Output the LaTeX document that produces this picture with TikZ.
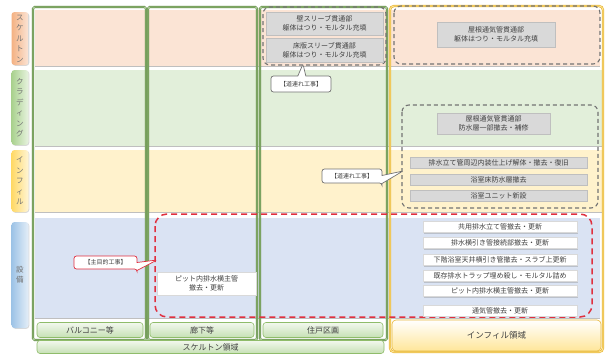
\documentclass[tikz,border=0pt]{standalone}
\usepackage{fontspec}
\newfontfamily\jp{Noto Sans CJK JP}
\usetikzlibrary{shapes.callouts,shadows}
\definecolor{bandsk}{HTML}{FBE4D5}
\definecolor{bandcl}{HTML}{E2EFDA}
\definecolor{bandin}{HTML}{FFF2CC}
\definecolor{bandeq}{HTML}{DAE3F3}
\definecolor{txtgray}{HTML}{404040}
\definecolor{boxgray}{HTML}{D9D9D9}
\definecolor{frgreen}{HTML}{548235}
\definecolor{frgreenin}{HTML}{C5E0B4}
\definecolor{fryellow}{HTML}{E8B83A}
\definecolor{fryellowin}{HTML}{FFE699}
\definecolor{redd}{HTML}{E0303F}
\definecolor{tabskL}{HTML}{F4B183}
\definecolor{tabskR}{HTML}{FBE5D6}
\definecolor{tabclL}{HTML}{A9D18E}
\definecolor{tabclR}{HTML}{E8F3E0}
\definecolor{tabinL}{HTML}{FFD966}
\definecolor{tabinR}{HTML}{FFF5D6}
\definecolor{tabeqL}{HTML}{9DC3E6}
\definecolor{tabeqR}{HTML}{E4EEF8}
\definecolor{footgL}{HTML}{F2F8EE}
\definecolor{footgR}{HTML}{C6E0B4}
\definecolor{footgD}{HTML}{8FBC6A}
\tikzset{
  jpt/.style={font=\jp\fontsize{7}{9}\selectfont, text=txtgray},
  tabst/.style={font=\jp\fontsize{7.5}{10.5}\selectfont, text=black!55, rounded corners=3pt,
    minimum width=17pt, inner sep=0pt, align=center,
    drop shadow={shadow xshift=0.8pt, shadow yshift=-0.8pt, opacity=0.3}},
  colframe/.style={draw=frgreen, double=frgreenin, double distance=0.9pt, line width=0.6pt, rounded corners=1.5pt},
  yframe/.style={draw=fryellow, double=fryellowin, double distance=0.9pt, line width=0.7pt, rounded corners=4pt},
  grpdash/.style={draw=black!55, line width=1.1pt, dash pattern=on 4pt off 3pt, rounded corners=7pt},
  reddash/.style={draw=redd, line width=1.5pt, dash pattern=on 6pt off 4pt, rounded corners=12pt},
  graybox/.style={jpt, draw=black!25, fill=boxgray, inner sep=0pt, align=center,
    drop shadow={shadow xshift=1pt, shadow yshift=-1pt, opacity=0.35}},
  whitebox/.style={jpt, draw=black!15, fill=white, inner sep=0pt, align=center,
    drop shadow={shadow xshift=1.2pt, shadow yshift=-1.2pt, opacity=0.35}},
  callst/.style={rectangle callout, font=\jp\fontsize{6}{7}\selectfont, text=txtgray,
    draw=black!55, line width=0.7pt, fill=white, rounded corners=2.5pt, inner sep=0pt,
    callout pointer width=8pt},
  footst/.style={font=\jp\fontsize{8}{9}\selectfont, text=txtgray, draw=footgD, line width=0.6pt,
    top color=footgL, bottom color=footgR, rounded corners=3pt, inner sep=0pt},
}
\begin{document}
\begin{tikzpicture}[x=1pt,y=-1pt]
\useasboundingbox (0,0) rectangle (605,356);
\fill[white] (0,0) rectangle (605,356);

% row bands
\fill[bandsk] (35,10) rectangle (600,66);
\fill[bandcl] (35,70) rectangle (602,146);
\fill[bandin] (35,150) rectangle (602,212);
\fill[bandeq] (35,218) rectangle (600,318);
\draw[black!25, line width=1pt] (35,66.5) -- (600,66.5);
\draw[black!25, line width=1pt] (35,146.5) -- (602,146.5);
\draw[black!25, line width=1pt] (35,212.5) -- (602,212.5);
\draw[black!25, line width=1pt] (35,318.5) -- (600,318.5);

% row tabs
\node[tabst, left color=tabskL, right color=tabskR, minimum height=53pt] (tsk) at (20,38.5) {ス\\ケ\\ル\\ト\\ン};
\node[tabst, left color=tabclL, right color=tabclR, minimum height=75pt] (tcl) at (20,107.5) {ク\\ラ\\デ\\ィ\\ン\\グ};
\node[tabst, left color=tabinL, right color=tabinR, minimum height=62pt] (tin) at (20,181) {イ\\ン\\フ\\ィ\\ル};
\node[tabst, left color=tabeqL, right color=tabeqR, minimum height=106pt] (teq) at (20,275) {設\\備};

% column frames
\draw[colframe] (33,7) rectangle (146,340);
\draw[colframe] (148,7) rectangle (257,340);
\draw[colframe] (260,7) rectangle (387,340);
\draw[yframe] (390,6) rectangle (603,352);

% dashed groups
\draw[grpdash] (263,7) rectangle (386,65);
\draw[grpdash] (394,6) rectangle (600,64);
\draw[grpdash] (402,105) rectangle (598,208);
\draw[reddash] (155,214) rectangle (592,317);

% gray boxes (skeleton / cladding / infill)
\node[graybox, minimum width=117pt, minimum height=23pt] (g1) at (324.5,23.5) {壁スリーブ貫通部\\躯体はつり・モルタル充填};
\node[graybox, minimum width=117pt, minimum height=24pt] (g2) at (324.5,50) {床版スリーブ貫通部\\躯体はつり・モルタル充填};
\node[graybox, minimum width=118pt, minimum height=25pt] (g3) at (496,34.5) {屋根通気管貫通部\\躯体はつり・モルタル充填};
\node[graybox, minimum width=113pt, minimum height=21pt] (g4) at (493.5,123.5) {屋根通気管貫通部\\防水層一部撤去・補修};
\node[graybox, minimum width=177pt, minimum height=11pt] (g5) at (498.5,162.5) {排水立て管周辺内装仕上げ解体・撤去・復旧};
\node[graybox, minimum width=177pt, minimum height=11pt] (g6) at (498.5,179.5) {浴室床防水層撤去};
\node[graybox, minimum width=177pt, minimum height=11pt] (g7) at (498.5,195.5) {浴室ユニット新設};

% white boxes (equipment)
\node[whitebox, minimum width=99pt, minimum height=23pt] (p1) at (206.5,283.5) {ピット内排水横主管\\撤去・更新};
\node[whitebox, minimum width=154pt, minimum height=11pt] (w1) at (500,227) {共用排水立て管撤去・更新};
\node[whitebox, minimum width=154pt, minimum height=11pt] (w2) at (500,243) {排水横引き管接続部撤去・更新};
\node[whitebox, minimum width=154pt, minimum height=11pt] (w3) at (500,260) {下階浴室天井横引き管撤去・スラブ上更新};
\node[whitebox, minimum width=154pt, minimum height=11pt] (w4) at (500,276) {既存排水トラップ埋め殺し・モルタル詰め};
\node[whitebox, minimum width=154pt, minimum height=11pt] (w5) at (500,291) {ピット内排水横主管撤去・更新};
\node[whitebox, minimum width=154pt, minimum height=11pt] (w6) at (500,310.5) {通気管撤去・更新};

% callouts
\node[callst, minimum width=60pt, minimum height=16pt, callout absolute pointer={(303,64)}] (c1) at (301,84) {【道連れ工事】};
\node[callst, minimum width=60pt, minimum height=14pt, callout absolute pointer={(403,171)}] (c2) at (352,176) {【道連れ工事】};
\node[callst, draw=redd, minimum width=63pt, minimum height=13pt, callout absolute pointer={(157,260)}] (c3) at (105.5,262.5) {【主目的工事】};

% footers
\node[footst, minimum width=106pt, minimum height=15pt] (f1) at (90,330) {バルコニー等};
\node[footst, minimum width=104pt, minimum height=15pt] (f2) at (202,330) {廊下等};
\node[footst, minimum width=120pt, minimum height=15pt] (f3) at (323,330) {住戸区画};
\node[footst, minimum width=347pt, minimum height=13pt] (f4) at (210.5,347) {スケルトン領域};
\node[font=\jp\fontsize{8.5}{10}\selectfont, text=txtgray, draw=fryellow, line width=0.6pt,
  top color=white, bottom color=fryellowin, rounded corners=4pt, inner sep=0pt,
  minimum width=209pt, minimum height=31pt] (f5) at (496.5,335.5) {インフィル領域};
\end{tikzpicture}
\end{document}
